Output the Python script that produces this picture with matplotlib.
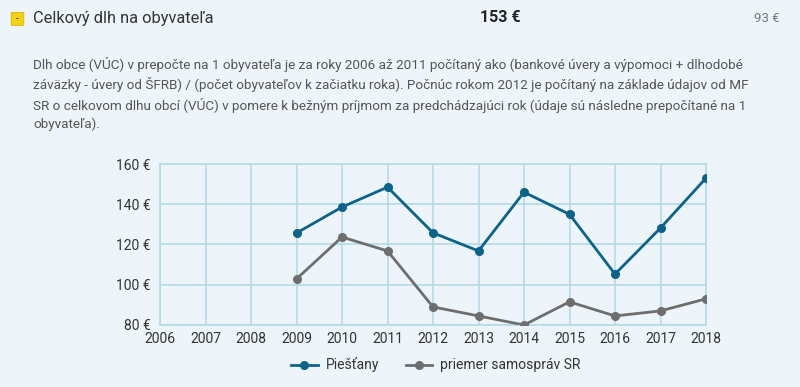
import matplotlib.pyplot as plt
from matplotlib.patches import FancyBboxPatch

# chart data
years = [2006, 2007, 2008, 2009, 2010, 2011, 2012, 2013, 2014, 2015, 2016, 2017, 2018]
data_years = [2009, 2010, 2011, 2012, 2013, 2014, 2015, 2016, 2017, 2018]
piestany = [125.7, 138.6, 148.5, 125.8, 116.8, 146, 135, 105.3, 128.2, 153]
priemer = [102.9, 123.7, 116.8, 89, 84.5, 80, 91.5, 84.5, 87, 93]
yticks = [80, 100, 120, 140, 160]

title = "Celkový dlh na obyvateľa"
value_main = "153 €"
value_avg = "93 €"
desc = ("Dlh obce (VÚC) v prepočte na 1 obyvateľa je za roky 2006 až 2011 počítaný ako (bankové úvery a výpomoci + dlhodobé\n"
        "záväzky - úvery od ŠFRB) / (počet obyvateľov k začiatku roka). Počnúc rokom 2012 je počítaný na základe údajov od MF\n"
        "SR o celkovom dlhu obcí (VÚC) v pomere k bežným príjmom za predchádzajúci rok (údaje sú následne prepočítané na 1\n"
        "obyvateľa).")

plt.rcParams['font.family'] = ['Roboto', 'DejaVu Sans']
bg = '#edf4fa'
blue = '#0b6389'
gray = '#6e6e6e'

fig = plt.figure(figsize=(8, 3.87), dpi=100, facecolor=bg)

# header
icon = FancyBboxPatch((12 / 800, 1 - 25 / 387), 11 / 800, 12 / 387,
                      boxstyle='round,pad=0.001', transform=fig.transFigure,
                      facecolor='#f5d312', edgecolor='#d9b500', lw=0.6)
fig.patches.append(icon)
fig.text(17.5 / 800, 1 - 19 / 387, '-', fontsize=7, ha='center', va='center', color='#333333')
fig.text(33 / 800, 1 - 18 / 387, title, fontsize=11.8, ha='left', va='center', color='#333333')
fig.text(500 / 800, 1 - 18 / 387, value_main, fontsize=11.5, fontweight='bold',
         ha='center', va='center', color='#222222')
fig.text(780 / 800, 1 - 18 / 387, value_avg, fontsize=9.5, ha='right', va='center', color='#777777')

fig.text(33 / 800, 1 - 57 / 387, desc, fontsize=9.7, ha='left', va='top', color='#555555',
         linespacing=1.45)

ax = fig.add_axes([160 / 800, 1 - 325 / 387, 546 / 800, 161 / 387])
ax.set_facecolor(bg)
ax.plot(data_years, piestany, color=blue, lw=2, marker='o', ms=5.5, label='Piešťany', zorder=3)
ax.plot(data_years, priemer, color=gray, lw=2, marker='o', ms=5.5, label='priemer samospráv SR', zorder=3)
ax.set_xlim(2006, 2018)
ax.set_ylim(80, 160)
ax.set_xticks(years)
ax.set_yticks(yticks)
ax.set_yticklabels([f'{v} €' for v in yticks])
ax.grid(True, color='#b3dbe8', lw=1.2)
for s in ax.spines.values():
    s.set_color('#b3dbe8')
    s.set_linewidth(1.2)
ax.tick_params(length=0, labelsize=10, colors='#333333', pad=7)
ax.tick_params(axis='x', pad=5)

fig.legend(loc='center', bbox_to_anchor=(436 / 800, 1 - 365 / 387), ncol=2, frameon=False,
           fontsize=10, handlelength=1.9, handletextpad=0.6, columnspacing=1.9, labelcolor='#333333')

fig.savefig('out.png', dpi=100, facecolor=bg)
